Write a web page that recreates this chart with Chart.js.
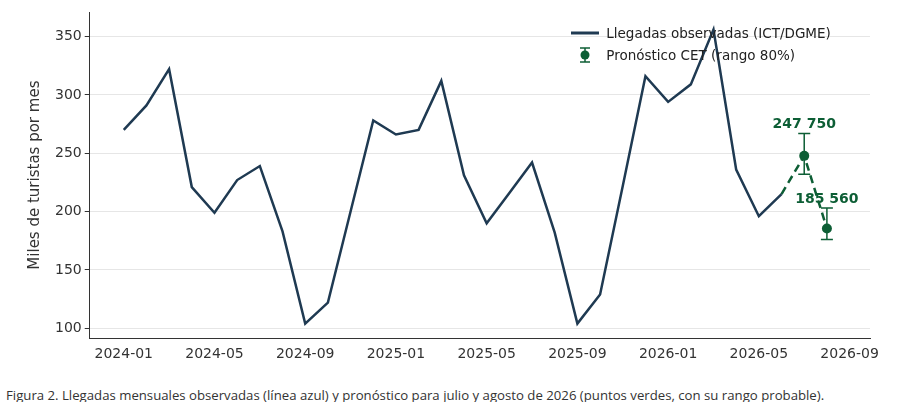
<!DOCTYPE html>
<html><head><meta charset="utf-8">
<script src="https://cdn.jsdelivr.net/npm/chart.js@4"></script>
<style>
body{margin:0;background:#fff;font-family:"DejaVu Sans",sans-serif;}
#wrap{position:relative;width:898px;height:370px;}
#legend{position:absolute;left:568px;top:22px;font-size:13.5px;color:#222;line-height:22px;}
#legend div{display:flex;align-items:center;}
#cap{position:absolute;left:6px;top:386px;font-family:"Open Sans",sans-serif;font-size:13.2px;color:#333;white-space:nowrap;}
</style></head><body>
<div id="wrap"><canvas id="c" width="898" height="370"></canvas>
<div id="legend">
<div><svg width="34" height="12"><line x1="3" y1="6" x2="31" y2="6" stroke="#1f3a52" stroke-width="3"/></svg>&nbsp;Llegadas observadas (ICT/DGME)</div>
<div><svg width="34" height="18"><line x1="17" y1="2" x2="17" y2="16" stroke="#0d5e35" stroke-width="1.5"/><line x1="12" y1="2" x2="22" y2="2" stroke="#0d5e35" stroke-width="1.5"/><line x1="12" y1="16" x2="22" y2="16" stroke="#0d5e35" stroke-width="1.5"/><circle cx="17" cy="9" r="4.5" fill="#0d5e35"/></svg>&nbsp;Pronóstico CET (rango 80%)</div>
</div></div>
<div id="cap">Figura 2. Llegadas mensuales observadas (línea azul) y pronóstico para julio y agosto de 2026 (puntos verdes, con su rango probable).</div>
<script>
const tickLabels = ['2024-01','2024-05','2024-09','2025-01','2025-05','2025-09','2026-01','2026-05','2026-09'];
// monthly index 0 = 2024-01
const observed = [270,291,322,221,199,227,239,183,104,122,200,278,266,270,312,231,190,216,242,182,104,129,222,316,294,309,356,236,196,215];
const forecastIdx = [30,31];
const forecast = [247.75,185.56];
const forecastLow = [232,176];
const forecastHigh = [267,203];
const forecastLabels = ['247 750','185 560'];

const obsPts = observed.map((v,i)=>({x:i,y:v}));
const dashPts = [{x:29,y:observed[29]}].concat(forecast.map((v,i)=>({x:forecastIdx[i],y:v})));
const green = '#0d5e35', navy = '#1f3a52';

const extras = {
  id:'extras',
  afterDatasetsDraw(ch){
    const {ctx,scales:{x,y}} = ch;
    ctx.save();
    ctx.strokeStyle = green; ctx.lineWidth = 1.5;
    forecast.forEach((v,i)=>{
      const px = x.getPixelForValue(forecastIdx[i]);
      const lo = y.getPixelForValue(forecastLow[i]), hi = y.getPixelForValue(forecastHigh[i]);
      ctx.beginPath(); ctx.moveTo(px,lo); ctx.lineTo(px,hi);
      ctx.moveTo(px-6,lo); ctx.lineTo(px+6,lo);
      ctx.moveTo(px-6,hi); ctx.lineTo(px+6,hi); ctx.stroke();
      ctx.fillStyle = green;
      ctx.beginPath(); ctx.arc(px,y.getPixelForValue(v),5,0,Math.PI*2); ctx.fill();
      ctx.font = 'bold 14px "DejaVu Sans"'; ctx.textAlign='center'; ctx.textBaseline='bottom';
      ctx.fillText(forecastLabels[i], px, y.getPixelForValue(forecastHigh[i])-2);
    });
    ctx.restore();
  }
};

new Chart(document.getElementById('c'),{
  type:'line',
  data:{datasets:[
    {data:obsPts,borderColor:navy,borderWidth:2.5,pointRadius:0,tension:0},
    {data:dashPts,borderColor:green,borderWidth:2.5,borderDash:[8,5],pointRadius:0,tension:0}
  ]},
  options:{
    responsive:false,animation:false,
    layout:{padding:{left:22,right:28,top:12,bottom:4}},
    plugins:{legend:{display:false},tooltip:{enabled:false}},
    scales:{
      x:{type:'linear',min:-1.5,max:32.9,
        afterBuildTicks(a){a.ticks=[0,4,8,12,16,20,24,28,32].map(v=>({value:v}));},
        ticks:{callback:(v)=>tickLabels[v/4],color:'#333',font:{size:14,family:'DejaVu Sans'},maxRotation:0,autoSkip:false},
        grid:{display:false,drawTicks:true,tickLength:5},border:{color:'#333',width:1}},
      y:{min:91.5,max:371,
        afterBuildTicks(a){a.ticks=[100,150,200,250,300,350].map(v=>({value:v}));},
        title:{display:true,text:'Miles de turistas por mes',color:'#333',font:{size:15,family:'DejaVu Sans'},padding:{bottom:8}},
        ticks:{color:'#333',font:{size:14,family:'DejaVu Sans'}},
        grid:{color:'#e6e6e6',tickLength:5,tickColor:'#333'},border:{color:'#333',width:1}}
    }
  },
  plugins:[extras]
});
</script></body></html>
